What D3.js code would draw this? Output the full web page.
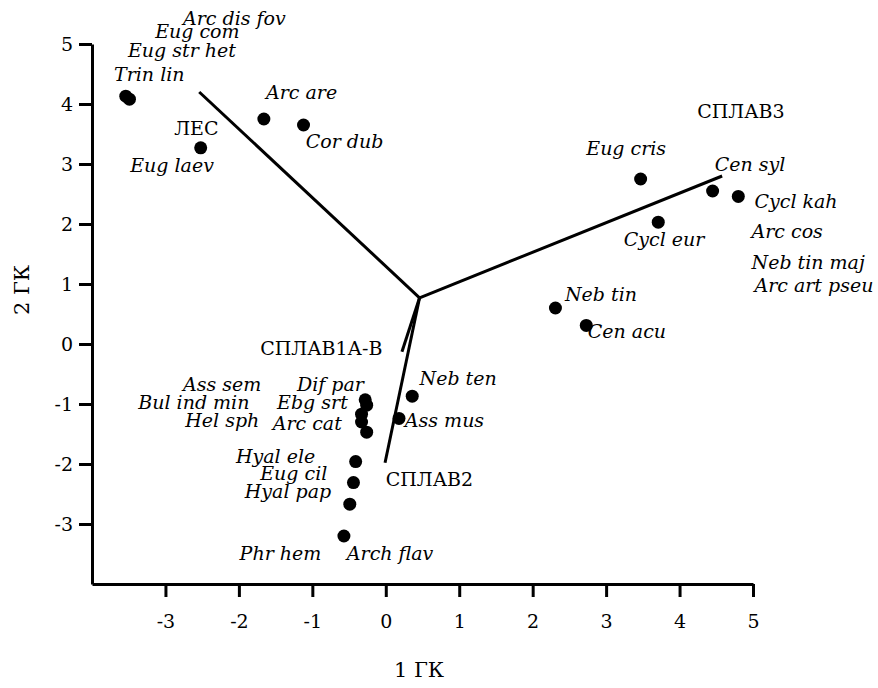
<!DOCTYPE html>
<html>
<head>
<meta charset="utf-8">
<script src="https://cdn.jsdelivr.net/npm/d3@7"></script>
<style>
  body { margin: 0; background: #fff; }
  svg text { font-family: "DejaVu Serif", serif; fill: #000; }
</style>
</head>
<body>
<div id="chart"></div>
<script>
// valeurs (1 ГК, 2 ГК)
var dotX = [-3.54, -3.49, -2.52, -1.66, -1.12, 3.47, 4.45, 4.80, 3.71, 2.31, 2.73,
            0.36, 0.18, -0.28, -0.26, -0.33, -0.33, -0.26, -0.41, -0.44, -0.49, -0.57];
var dotY = [4.13, 4.08, 3.27, 3.75, 3.65, 2.75, 2.55, 2.46, 2.03, 0.60, 0.31,
            -0.87, -1.24, -0.93, -1.02, -1.17, -1.30, -1.47, -1.96, -2.31, -2.67, -3.20];

// vecteurs des biotopes (depuis le centre)
var origin = [0.46, 0.77];
var vectorNames = ["ЛЕС", "СПЛАВ3", "СПЛАВ2", "СПЛАВ1А-В"];
var vectorX = [-2.54, 4.58, -0.01, 0.22];
var vectorY = [4.20, 2.80, -1.98, -0.13];

// noms des especes
var speciesNames = ["Arc dis fov", "Eug com", "Eug str het", "Trin lin", "Eug laev", "Arc are", "Cor dub",
  "Eug cris", "Cen syl", "Cycl kah", "Cycl eur", "Arc cos", "Neb tin maj", "Arc art pseu", "Neb tin", "Cen acu",
  "Ass sem", "Dif par", "Neb ten", "Bul ind min", "Ebg srt", "Hel sph", "Arc cat", "Ass mus",
  "Hyal ele", "Eug cil", "Hyal pap", "Phr hem", "Arch flav"];
var speciesX = [-2.76, -3.14, -3.51, -3.70, -3.48, -1.63, -1.09,
  2.73, 4.48, 5.02, 3.24, 4.98, 4.98, 5.02, 2.44, 2.75,
  -2.76, -1.21, 0.46, -3.37, -1.48, -2.73, -1.54, 0.26,
  -2.04, -1.71, -1.92, -1.99, -0.53];
var speciesY = [5.32, 5.10, 4.78, 4.38, 2.87, 4.08, 3.27,
  3.15, 2.88, 2.27, 1.63, 1.77, 1.25, 0.87, 0.72, 0.10,
  -0.78, -0.78, -0.68, -1.08, -1.08, -1.38, -1.43, -1.38,
  -1.98, -2.27, -2.57, -3.60, -3.60];

// noms des biotopes
var siteNames = ["ЛЕС", "СПЛАВ3", "СПЛАВ1А-В", "СПЛАВ2"];
var siteX = [-2.88, 4.24, -1.71, 0.0];
var siteY = [3.48, 3.77, -0.18, -2.37];

var ticks = [-3, -2, -1, 0, 1, 2, 3, 4, 5];

var width = 878, height = 688;

var svg = d3.select("#chart").append("svg")
  .attr("width", width)
  .attr("height", height);

var x = d3.scaleLinear().domain([-4, 5]).range([92, 753]);
var y = d3.scaleLinear().domain([-4, 5]).range([584, 44]);

// axes
svg.append("g")
  .attr("transform", "translate(0," + y(-4) + ")")
  .call(d3.axisBottom(x).tickValues(ticks).tickFormat(d => String(d)).tickSize(13).tickSizeOuter(0).tickPadding(18));

svg.append("g")
  .attr("transform", "translate(" + x(-4) + ",0)")
  .call(d3.axisLeft(y).tickValues(ticks).tickFormat(d => String(d)).tickSize(13).tickSizeOuter(0).tickPadding(6));

svg.selectAll(".domain").attr("stroke-width", 3).attr("stroke", "#000");
svg.selectAll(".tick line").attr("stroke-width", 3).attr("stroke", "#000");
svg.selectAll(".tick text")
  .attr("font-size", "19px")
  .attr("fill", "#000");

// titres des axes
svg.append("text")
  .attr("x", 419)
  .attr("y", 677)
  .attr("text-anchor", "middle")
  .attr("font-size", "21px")
  .text("1 ГК");

svg.append("text")
  .attr("transform", "translate(29,290) rotate(-90)")
  .attr("text-anchor", "middle")
  .attr("font-size", "21px")
  .text("2 ГК");

// vecteurs
svg.selectAll(".vec")
  .data(vectorNames)
  .enter()
  .append("line")
  .attr("class", "vec")
  .attr("x1", x(origin[0]))
  .attr("y1", y(origin[1]))
  .attr("x2", (d, i) => x(vectorX[i]))
  .attr("y2", (d, i) => y(vectorY[i]))
  .attr("stroke", "#000")
  .attr("stroke-width", 3);

// points
svg.selectAll(".dot")
  .data(dotX)
  .enter()
  .append("circle")
  .attr("class", "dot")
  .attr("cx", (d, i) => x(dotX[i]))
  .attr("cy", (d, i) => y(dotY[i]))
  .attr("r", 6.5)
  .attr("fill", "#000");

// etiquettes especes
svg.selectAll(".sp")
  .data(speciesNames)
  .enter()
  .append("text")
  .attr("class", "sp")
  .attr("x", (d, i) => x(speciesX[i]))
  .attr("y", (d, i) => y(speciesY[i]))
  .attr("font-size", "19px")
  .attr("font-style", "italic")
  .text(d => d);

// etiquettes biotopes
svg.selectAll(".site")
  .data(siteNames)
  .enter()
  .append("text")
  .attr("class", "site")
  .attr("x", (d, i) => x(siteX[i]))
  .attr("y", (d, i) => y(siteY[i]))
  .attr("font-size", "19px")
  .text(d => d);
</script>
</body>
</html>
